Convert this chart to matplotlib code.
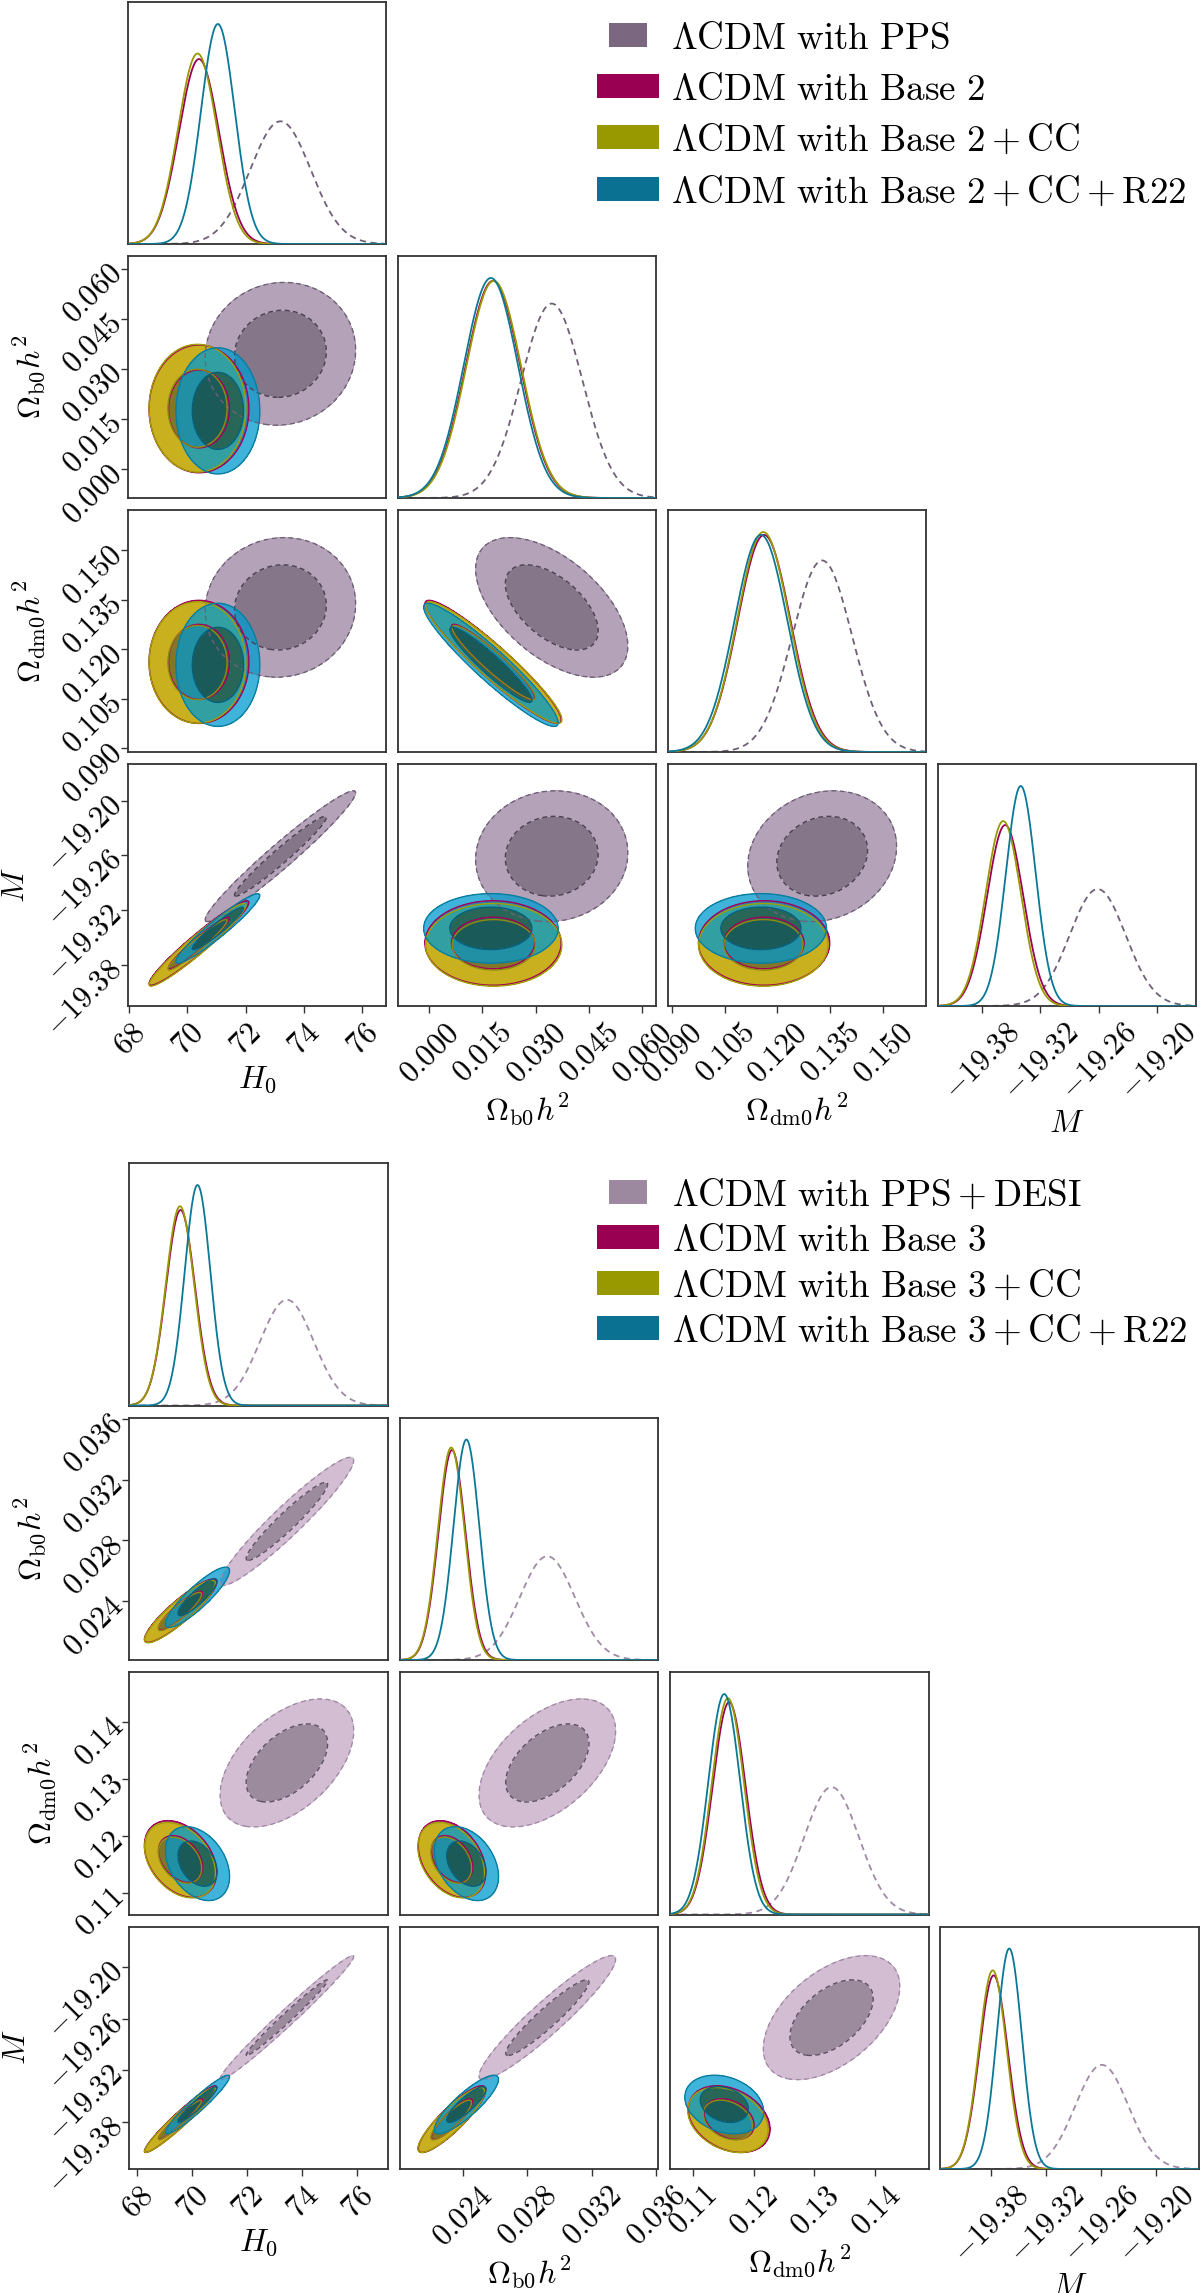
import numpy as np
import matplotlib.pyplot as plt
from matplotlib.colors import to_rgba
from matplotlib.patches import Rectangle

plt.rcParams['mathtext.fontset'] = 'cm'
plt.rcParams['font.family'] = ['DejaVu Serif']

FIG_W, FIG_H = 1200, 2293

PARAM_LABELS = [r'$H_0$', r'$\Omega_{\rm b0}h^2$', r'$\Omega_{\rm dm0}h^2$', r'$M$']
# order of the correlation entries below
PAIRS = [(0, 1), (0, 2), (0, 3), (1, 2), (1, 3), (2, 3)]

# ==========================================
# upper corner plot (Base 2)
# ==========================================
top_names = [r'$\Lambda\mathrm{CDM\ with\ PPS}$',
             r'$\Lambda\mathrm{CDM\ with\ Base\ 2}$',
             r'$\Lambda\mathrm{CDM\ with\ Base\ 2}+\mathrm{CC}$',
             r'$\Lambda\mathrm{CDM\ with\ Base\ 2}+\mathrm{CC}+\mathrm{R22}$']
# means / sigmas: H0, Ob h2, Odm h2, M
top_means = [[73.20, 0.0345, 0.1327, -19.261],
             [70.40, 0.0180, 0.1162, -19.356],
             [70.35, 0.0182, 0.1160, -19.358],
             [71.05, 0.0174, 0.1153, -19.340]]
top_sigmas = [[1.04, 0.0086, 0.0085, 0.0288],
              [0.69, 0.0077, 0.0075, 0.0186],
              [0.67, 0.0077, 0.0074, 0.0182],
              [0.58, 0.0076, 0.0075, 0.0153]]
top_corr = [[0.05, 0.05, 0.97, -0.55, 0.05, 0.15],
            [0.00, 0.00, 0.96, -0.94, 0.00, 0.00],
            [0.00, 0.00, 0.96, -0.94, 0.00, 0.00],
            [0.00, 0.00, 0.95, -0.94, 0.00, 0.00]]
top_ranges = [(67.96, 76.83), (-0.0087, 0.0638), (0.0889, 0.1622), (-19.425, -19.160)]
top_ticks = [[68, 70, 72, 74, 76],
             [0.0, 0.015, 0.030, 0.045, 0.060],
             [0.090, 0.105, 0.120, 0.135, 0.150],
             [-19.38, -19.32, -19.26, -19.20]]
top_ticklabels = [['68', '70', '72', '74', '76'],
                  ['0.000', '0.015', '0.030', '0.045', '0.060'],
                  ['0.090', '0.105', '0.120', '0.135', '0.150'],
                  ['-19.38', '-19.32', '-19.26', '-19.20']]

# ==========================================
# lower corner plot (Base 3)
# ==========================================
bot_names = [r'$\Lambda\mathrm{CDM\ with\ PPS}+\mathrm{DESI}$',
             r'$\Lambda\mathrm{CDM\ with\ Base\ 3}$',
             r'$\Lambda\mathrm{CDM\ with\ Base\ 3}+\mathrm{CC}$',
             r'$\Lambda\mathrm{CDM\ with\ Base\ 3}+\mathrm{CC}+\mathrm{R22}$']
bot_means = [[73.45, 0.02925, 0.1328, -19.259],
             [69.57, 0.02335, 0.1160, -19.377],
             [69.55, 0.02330, 0.1158, -19.378],
             [70.19, 0.02424, 0.1152, -19.360]]
bot_sigmas = [[0.98, 0.00170, 0.0045, 0.0290],
              [0.53, 0.00084, 0.0027, 0.0156],
              [0.52, 0.00083, 0.00265, 0.0152],
              [0.47, 0.00080, 0.0026, 0.0137]]
bot_corr = [[0.95, 0.50, 0.985, 0.50, 0.94, 0.50],
            [0.90, -0.35, 0.96, -0.35, 0.88, -0.30],
            [0.90, -0.35, 0.96, -0.35, 0.88, -0.30],
            [0.88, -0.35, 0.95, -0.35, 0.86, -0.25]]
bot_ranges = [(67.69, 77.12), (0.0201, 0.0361), (0.1063, 0.1487), (-19.435, -19.153)]
bot_ticks = [[68, 70, 72, 74, 76],
             [0.024, 0.028, 0.032, 0.036],
             [0.11, 0.12, 0.13, 0.14],
             [-19.38, -19.32, -19.26, -19.20]]
bot_ticklabels = [['68', '70', '72', '74', '76'],
                  ['0.024', '0.028', '0.032', '0.036'],
                  ['0.11', '0.12', '0.13', '0.14'],
                  ['-19.38', '-19.32', '-19.26', '-19.20']]

# ---- styles ----
DASH = (0, (3.5, 2.5))
BASE_STYLES = [
    dict(inner=to_rgba('#7a1e50'), outer=to_rgba('#b23a78'), edge_in='#a3005c',
         edge_out='#a3005c', line='#9b0057', ls='solid', legend='#990052', hw=62),
    dict(inner=to_rgba('#847628'), outer=to_rgba('#c9b01f'), edge_in='#8f8a10',
         edge_out='#a0a000', line='#9a9a00', ls='solid', legend='#989800', hw=62),
    dict(inner=to_rgba('#005466', 0.8), outer=to_rgba('#009acf', 0.75), edge_in='#0a5f78',
         edge_out='#0a7ea0', line='#0a7896', ls='solid', legend='#0b7192', hw=62),
]
TOP_PPS = dict(inner=to_rgba('#857789'), outer=to_rgba('#b3a2b8'), edge_in='#4a4050',
               edge_out='#6f6077', line='#6f6077', ls=DASH, legend='#7b6880', hw=38)
BOT_PPS = dict(inner=to_rgba('#9b8b9d'), outer=to_rgba('#d3bdd3'), edge_in='#5f5066',
               edge_out='#a08aa5', line='#a08aa6', ls=DASH, legend='#9d899f', hw=38)

SPINE = '#333333'
TICK_FS = 22
LABEL_FS = 23
LEGEND_FS = 26.7


def px_axes(fig, left, top, w, h):
    return fig.add_axes([left / FIG_W, 1 - (top + h) / FIG_H, w / FIG_W, h / FIG_H])


def math_labels(labels):
    return ['$' + s + '$' for s in labels]


def draw_corner(fig, lefts, tops, w, h, means, sigmas, corr, ranges, ticks,
                ticklabels, styles):
    n = len(ranges)
    for i in range(n):
        for j in range(i + 1):
            ax = px_axes(fig, lefts[j], tops[i], w, h)
            for sp in ax.spines.values():
                sp.set_color(SPINE)
                sp.set_linewidth(1.3)
            ax.set_xlim(ranges[j])
            if i == j:
                xs = np.linspace(ranges[j][0], ranges[j][1], 600)
                peak = 0.0
                for k, st in enumerate(styles):
                    m, s = means[k][j], sigmas[k][j]
                    pdf = np.exp(-0.5 * ((xs - m) / s) ** 2) / (s * np.sqrt(2 * np.pi))
                    ax.plot(xs, pdf, color=st['line'], lw=1.3, ls=st['ls'], zorder=2 + k)
                    peak = max(peak, pdf.max())
                ax.set_ylim(0, 1.1 * peak)
                ax.set_yticks([])
            else:
                ax.set_ylim(ranges[i])
                xs = np.linspace(ranges[j][0], ranges[j][1], 400)
                ys = np.linspace(ranges[i][0], ranges[i][1], 400)
                X, Y = np.meshgrid(xs, ys)
                p = PAIRS.index((j, i))
                for k, st in enumerate(styles):
                    r = corr[k][p]
                    u = (X - means[k][j]) / sigmas[k][j]
                    v = (Y - means[k][i]) / sigmas[k][i]
                    d2 = (u * u - 2 * r * u * v + v * v) / (1 - r * r)
                    ax.contourf(X, Y, d2, levels=[0, 2.30, 6.18],
                                colors=[st['inner'], st['outer']], zorder=1 + k)
                    ax.contour(X, Y, d2, levels=[2.30, 6.18],
                               colors=[st['edge_in'], st['edge_out']],
                               linewidths=1.0, linestyles=[st['ls'], st['ls']],
                               zorder=10 + k)
                if j > 0:
                    ax.set_yticks([])
            ax.tick_params(direction='out', length=5, width=1.0, color=SPINE, pad=3)
            if i == n - 1:
                ax.set_xticks(ticks[j])
                ax.set_xticklabels(math_labels(ticklabels[j]), rotation=45,
                                   fontsize=TICK_FS)
                ax.set_xlabel(PARAM_LABELS[j], fontsize=LABEL_FS, labelpad=2)
            else:
                ax.set_xticks([])
            if j == 0 and i > 0:
                ax.set_yticks(ticks[i])
                ax.set_yticklabels(math_labels(ticklabels[i]), rotation=45,
                                   rotation_mode='anchor', ha='right', va='center',
                                   fontsize=TICK_FS)
                ax.set_ylabel(PARAM_LABELS[i], fontsize=LABEL_FS, labelpad=6)


def draw_legend(fig, names, styles, rows_y, text_x, hand_cx):
    for name, st, y in zip(names, styles, rows_y):
        hw, hh = st['hw'], 24
        fig.add_artist(Rectangle(((hand_cx - hw / 2) / FIG_W, 1 - (y + hh / 2) / FIG_H),
                                 hw / FIG_W, hh / FIG_H, transform=fig.transFigure,
                                 facecolor=st['legend'], edgecolor='none'))
        fig.text(text_x / FIG_W, 1 - y / FIG_H, name, fontsize=LEGEND_FS,
                 ha='left', va='center_baseline')


fig = plt.figure(figsize=(FIG_W / 100, FIG_H / 100), dpi=100)

top_styles = [TOP_PPS] + BASE_STYLES
bot_styles = [BOT_PPS] + BASE_STYLES

draw_corner(fig, [128, 398, 668, 938], [2, 256, 510, 764], 258, 242,
            top_means, top_sigmas, top_corr, top_ranges, top_ticks, top_ticklabels,
            top_styles)
draw_corner(fig, [129, 399.5, 670, 940.5], [1163, 1417.5, 1672, 1926.5], 258.5, 242.5,
            bot_means, bot_sigmas, bot_corr, bot_ranges, bot_ticks, bot_ticklabels,
            bot_styles)

draw_legend(fig, top_names, top_styles, [35, 86, 137, 189], 671, 628)
draw_legend(fig, bot_names, bot_styles, [1192, 1237, 1283, 1328], 672, 628)

fig.savefig('out.png', dpi=100, facecolor='white')
